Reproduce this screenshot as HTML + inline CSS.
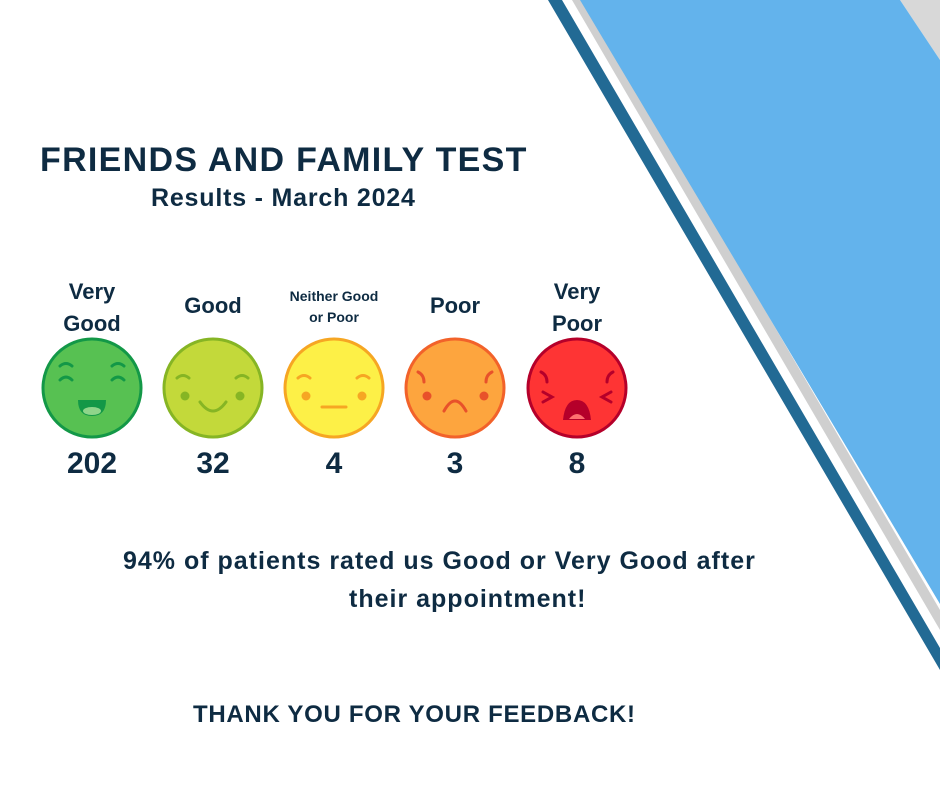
<!DOCTYPE html>
<html><head><meta charset="utf-8"><style>
body{margin:0;width:940px;height:788px;background:#fff;overflow:hidden;position:relative;font-family:"Liberation Sans",sans-serif;color:#0e2b42;font-weight:bold}
.t{position:absolute;white-space:nowrap;text-align:center}
</style></head><body>
<svg width="940" height="788" style="position:absolute;left:0;top:0">
<polygon points="900,0 940,0 940,60" fill="#d8d8d8"/>
<polygon points="572,0 584,0 940,610 940,630" fill="#cfcfcf"/>
<polygon points="580,0 900,0 940,60 940,604" fill="#63b3ec"/>
<polygon points="548,0 562,0 940,648 940,670" fill="#226a94"/>
<g stroke-width="3">
<circle cx="92" cy="388" r="49" fill="#57c152" stroke="#139847"/>
<circle cx="213" cy="388" r="49" fill="#c3d93a" stroke="#86b524"/>
<circle cx="334" cy="388" r="49" fill="#fdf047" stroke="#f6a623"/>
<circle cx="455" cy="388" r="49" fill="#fda53e" stroke="#f2622a"/>
<circle cx="577" cy="388" r="49" fill="#fe3434" stroke="#b5002a"/>
</g>
<g fill="none" stroke-width="3" stroke-linecap="round">
<path d="M60,380 q6,-6 12,0 M112,380 q6,-6 12,0 M60,366 q6,-5 12,0 M112,366 q6,-5 12,0" stroke="#139847"/>
<path d="M177,378 q6,-5 12,0 M236,378 q6,-5 12,0 M200,402 q13,18 26,0" stroke="#86b524"/>
<path d="M298,378 q6,-5 12,0 M357,378 q6,-5 12,0 M322,407 h24" stroke="#f6a623"/>
<path d="M418,372 q6,3 6,10 M492,372 q-6,3 -6,10 M444,411 q11,-20 22,0" stroke="#e8512a"/>
<path d="M541,372 q6,3 6,10 M613,372 q-6,3 -6,10 M543,392 l9,5 -9,5 M611,392 l-9,5 9,5" stroke="#b5002a"/>
</g>
<path d="M78,400 h28 q0,16 -14,16 q-14,0 -14,-16z" fill="#139847"/>
<ellipse cx="92" cy="411" rx="9" ry="4" fill="#8fd58a"/>
<g fill="#86b524"><circle cx="185" cy="396" r="4.5"/><circle cx="240" cy="396" r="4.5"/></g>
<g fill="#f6a623"><circle cx="306" cy="396" r="4.5"/><circle cx="362" cy="396" r="4.5"/></g>
<g fill="#e8512a"><circle cx="427" cy="396" r="4.5"/><circle cx="484" cy="396" r="4.5"/></g>
<path d="M563,420 q2,-20 14,-20 q12,0 14,20z" fill="#b5002a"/>
<path d="M569,419 q8,-10 16,0z" fill="#fe7070"/>
</svg>
<div class="t" style="left:40px;top:141px;font-size:34px;letter-spacing:1.3px">FRIENDS AND FAMILY TEST</div>
<div class="t" style="left:151px;top:184px;font-size:25px;letter-spacing:0.8px">Results - March 2024</div>
<div class="t" style="left:52px;top:276px;width:80px;font-size:22px;line-height:32px">Very<br>Good</div>
<div class="t" style="left:173px;top:293px;width:80px;font-size:22px">Good</div>
<div class="t" style="left:274px;top:286px;width:120px;font-size:14px;line-height:21px">Neither Good<br>or Poor</div>
<div class="t" style="left:415px;top:293px;width:80px;font-size:22px">Poor</div>
<div class="t" style="left:537px;top:276px;width:80px;font-size:22px;line-height:32px">Very<br>Poor</div>
<div class="t" style="left:52px;top:447px;width:80px;font-size:30px">202</div>
<div class="t" style="left:173px;top:447px;width:80px;font-size:30px">32</div>
<div class="t" style="left:294px;top:447px;width:80px;font-size:30px">4</div>
<div class="t" style="left:415px;top:447px;width:80px;font-size:30px">3</div>
<div class="t" style="left:537px;top:447px;width:80px;font-size:30px">8</div>
<div class="t" style="left:123px;top:547px;font-size:25px;letter-spacing:1px">94% of patients rated us Good or Very Good after</div>
<div class="t" style="left:349px;top:585px;font-size:25px;letter-spacing:1px">their appointment!</div>
<div class="t" style="left:193px;top:701px;font-size:24px;letter-spacing:0.7px">THANK YOU FOR YOUR FEEDBACK!</div>
</body></html>
